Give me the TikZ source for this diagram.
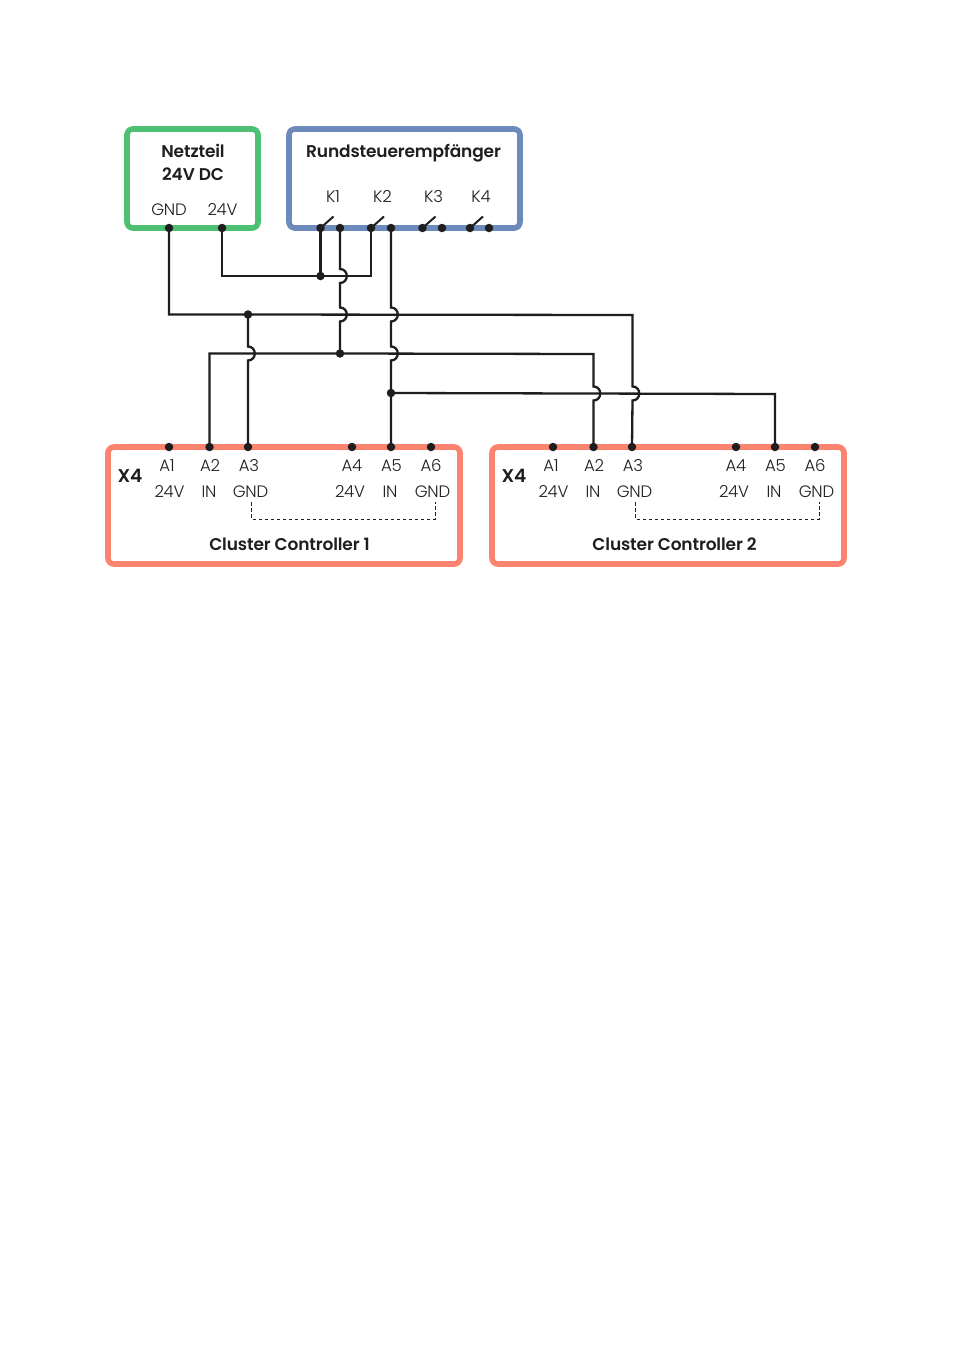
\documentclass[tikz,border=0pt]{standalone}
\usepackage{fontspec}
\setmainfont{Poppins}
\newfontfamily\ttlfont[LetterSpace=-0.8]{Poppins SemiBold}
\newfontfamily\labfont[LetterSpace=-1.5]{Poppins Light}
\newcommand{\hopat}[2]{-- (#1,#2-7) .. controls (#1+9,#2-7) and (#1+9,#2+7) .. (#1,#2+7)}
\definecolor{gbox}{HTML}{4DC073}
\definecolor{bbox}{HTML}{6D8BBA}
\definecolor{obox}{HTML}{FA846E}
\definecolor{ink}{HTML}{1F1D1E}
\tikzset{
  frame/.style={draw=#1,line width=5.6pt,rounded corners=6pt},
  pin/.style={circle,fill=ink,draw=none,inner sep=0pt,minimum size=8.5pt},
  wire/.style={draw=ink,line width=2.3pt,line join=miter},
  heavy/.style={draw=ink,line width=3.6pt},
  swt/.style={draw=ink,line width=2pt},
  bridge/.style={draw=ink,line width=.9pt,dash pattern=on 3.5pt off 2.5pt},
  lab/.style={anchor=base,inner sep=0pt,font=\labfont\fontsize{16.5}{18}\selectfont,text=ink},
  ttl/.style={anchor=base,inner sep=0pt,font=\ttlfont\fontsize{17}{20}\selectfont,text=ink},
  ttx/.style={anchor=base,inner sep=0pt,font=\ttlfont\fontsize{18.5}{20}\selectfont,text=ink},
}
\begin{document}
\begin{tikzpicture}[x=1pt,y=-1pt]
\useasboundingbox (0,0) rectangle (953,1352);
\fill[white] (0,0) rectangle (953,1352);
% boxes
\node[frame=gbox,minimum width=131pt,minimum height=99pt,inner sep=0pt] (psu) at (192.5,178.5) {};
\node[frame=bbox,minimum width=231pt,minimum height=99pt,inner sep=0pt] (rse) at (404.5,178.5) {};
\node[frame=obox,minimum width=352pt,minimum height=117pt,inner sep=0pt] (cca) at (284,505.5) {};
\node[frame=obox,minimum width=352pt,minimum height=117pt,inner sep=0pt] (ccb) at (668,505.5) {};
% titles
\node[ttl] (t1) at (193,157) {Netzteil};
\node[ttl] (t2) at (193,180) {24V DC};
\node[ttl] (t3) at (403.5,157) {Rundsteuerempfänger};
\node[ttl] (t4) at (289.5,550.5) {Cluster Controller 1};
\node[ttl] (t5) at (674.5,550.5) {Cluster Controller 2};
\node[ttx] (x1) at (130,482.5) {X4};
\node[ttx] (x2) at (514,482.5) {X4};
% labels
\node[lab] (l1) at (169,215) {GND};
\node[lab] (l2) at (222.5,215) {24V};
\node[lab] (k1) at (333,202) {K1};
\node[lab] (k2) at (382.5,202) {K2};
\node[lab] (k3) at (433.5,202) {K3};
\node[lab] (k4) at (481,202) {K4};
\foreach \o/\s in {0/a,384/b}{
  \node[lab] (\s a1) at (167+\o,471.5) {A1};
  \node[lab] (\s a2) at (210+\o,471.5) {A2};
  \node[lab] (\s a3) at (249+\o,471.5) {A3};
  \node[lab] (\s a4) at (352+\o,471.5) {A4};
  \node[lab] (\s a5) at (391.5+\o,471.5) {A5};
  \node[lab] (\s a6) at (431+\o,471.5) {A6};
  \node[lab] (\s v1) at (169.5+\o,497) {24V};
  \node[lab] (\s i1) at (209+\o,497) {IN};
  \node[lab] (\s g1) at (250.5+\o,497) {GND};
  \node[lab] (\s v2) at (350+\o,497) {24V};
  \node[lab] (\s i2) at (390+\o,497) {IN};
  \node[lab] (\s g2) at (432.5+\o,497) {GND};
  \coordinate (\s d1) at (251.5+\o,502);
  \coordinate (\s d2) at (435+\o,502);
  \draw[bridge] (\s d1) |- (\s d2 |- 0,519) -- (\s d2);
  \node[pin] (\s p1) at (169+\o,447) {};
  \node[pin] (\s p2) at (209.5+\o,447) {};
  \node[pin] (\s p3) at (248+\o,447) {};
  \node[pin] (\s p4) at (352+\o,447) {};
  \node[pin] (\s p5) at (391+\o,447) {};
  \node[pin] (\s p6) at (431+\o,447) {};
}
% terminals
\node[pin] (pg) at (169,228) {};
\node[pin] (pv) at (222,228) {};
\node[pin] (s1a) at (320.5,228) {};
\node[pin] (s1b) at (340,228) {};
\node[pin] (s2a) at (371,228) {};
\node[pin] (s2b) at (391,228) {};
\node[pin] (s3a) at (422.5,228) {};
\node[pin] (s3b) at (442,228) {};
\node[pin] (s4a) at (470,228) {};
\node[pin] (s4b) at (489,228) {};
% junctions
\node[pin] (j1) at (320.5,276) {};
\node[pin] (j2) at (248,314.5) {};
\node[pin] (j3) at (340,353.5) {};
\node[pin] (j4) at (391,393) {};
% switch blades
\foreach \n in {s1a,s2a,s3a,s4a}
  \draw[swt] (\n.center) -- ++(13,-11.5);
% wires
\draw[wire] (pv.center) |- (j1.center) -- (371,276) -- (s2a.center);
\draw[heavy] (s1a.center) -- (j1.center);
\draw[wire] (pg.center) -- (169,314.5) -- (j2.center) -- (632.5,315) \hopat{632.5}{393.5} -- (bp3.center);
\draw[wire] (j2.center) \hopat{248}{353.5} -- (ap3.center);
\draw[wire] (s1b.center) \hopat{340}{276} \hopat{340}{314.5} -- (j3.center);
\draw[wire] (ap2.center) -- (209.5,353.5) -- (j3.center) -- (593.5,354) \hopat{593.5}{393.5} -- (bp2.center);
\draw[wire] (s2b.center) \hopat{391}{314.5} \hopat{391}{353.5} -- (j4.center) -- (ap5.center);
\draw[wire] (j4.center) -- (775,394) -- (bp5.center);
\end{tikzpicture}
\end{document}
